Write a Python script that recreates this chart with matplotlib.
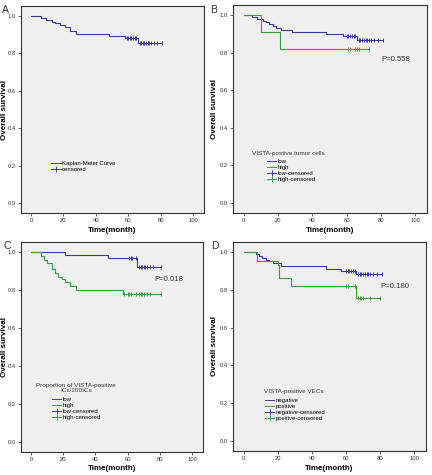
import matplotlib
matplotlib.use("Agg")
import matplotlib.pyplot as plt
import numpy as np
from matplotlib.lines import Line2D

plt.rcParams['font.family'] = ['Liberation Sans', 'DejaVu Sans']

BLUE = "#3b3b94"
GREEN = "#3f9a3f"

# Panel A: overall
a_t = [0, 6, 9, 13, 15, 18, 21, 24, 28, 48, 58, 66]
a_s = [1.0, 0.99, 0.98, 0.97, 0.96, 0.95, 0.94, 0.92, 0.905, 0.893, 0.88, 0.857]
a_c = [59, 60, 61, 62, 63, 64, 65, 67, 68, 69, 70, 71, 72, 73, 74, 76, 78, 81]

# Panel B: VISTA-positive tumor cells
b_low_t = [0, 5, 8, 11, 13, 15, 17, 19, 22, 28, 48, 58, 66]
b_low_s = [1.0, 0.99, 0.98, 0.97, 0.96, 0.95, 0.94, 0.93, 0.92, 0.912, 0.90, 0.89, 0.865]
b_low_c = [60, 61, 62, 63, 64, 65, 67, 68, 69, 70, 71, 72, 73, 74, 76, 78, 81]
b_high_t = [0, 10, 21]
b_high_s = [1.0, 0.91, 0.82]
b_high_c = [61, 62, 65, 66, 67, 73]

# Panel C: Proportion of VISTA-positive ICs/200ICs
c_low_t = [0, 21, 48, 66]
c_low_s = [1.0, 0.985, 0.97, 0.92]
c_low_c = [61, 62, 63, 65, 67, 68, 69, 70, 71, 72, 74, 76, 81]
c_high_t = [0, 6, 8, 10, 13, 15, 17, 19, 21, 24, 28, 57]
c_high_s = [1.0, 0.98, 0.96, 0.94, 0.91, 0.89, 0.87, 0.86, 0.84, 0.82, 0.80, 0.78]
c_high_c = [58, 60, 61, 62, 65, 67, 68, 69, 70, 72, 74, 81]

# Panel D: VISTA-positive VECs
d_neg_t = [0, 7, 9, 11, 13, 15, 17, 22, 48, 57, 66]
d_neg_s = [1.0, 0.99, 0.98, 0.97, 0.96, 0.95, 0.94, 0.925, 0.91, 0.90, 0.885]
d_neg_c = [60, 61, 62, 63, 64, 65, 67, 68, 69, 70, 71, 72, 73, 74, 76, 78, 81]
d_pos_t = [0, 8, 20, 21, 28, 66]
d_pos_s = [1.0, 0.955, 0.93, 0.865, 0.818, 0.758]
d_pos_c = [60, 61, 65, 67, 68, 69, 70, 74, 80]

x_ticks = [0, 20, 40, 60, 80, 100]
y_ticks = [0.0, 0.2, 0.4, 0.6, 0.8, 1.0]

W, H = 432, 475
fig = plt.figure(figsize=(W / 100, H / 100), dpi=100)


def make_ax(x0, y0, x1, y1, ylab_x):
    w = x1 - x0
    h = y1 - y0
    ax = fig.add_axes([x0 / W, 1 - y1 / H, w / W, h / H])
    ax.set_facecolor("#efefef")
    ax.set_xlim(-6.2, 106.8)
    ax.set_ylim(-0.053, 1.053)
    ax.set_xticks(x_ticks)
    ax.set_yticks(y_ticks)
    ax.set_yticklabels([f"{v:.1f}" for v in y_ticks])
    ax.tick_params(labelsize=4.2, length=2, width=0.5, colors="#333333", pad=1.5)
    for s in ax.spines.values():
        s.set_color("#333333")
        s.set_linewidth(0.8)
    ax.set_xlabel("Time(month)", fontsize=5.8, fontweight="bold")
    ax.xaxis.set_label_coords(0.5, -17 / h, transform=ax.transAxes)
    ax.set_ylabel("Overall survival", fontsize=5.8, fontweight="bold")
    ax.yaxis.set_label_coords((ylab_x - x0) / w, 0.5, transform=ax.transAxes)
    ax.xaxis.label.set_va("center")
    ax.yaxis.label.set_va("center")
    return ax


def km(ax, t, s, c, color):
    tt = list(t) + [max(c)]
    ss = list(s) + [s[-1]]
    ax.step(tt, ss, where="post", color=color, lw=0.8)
    t_arr = np.array(t)
    cy = [s[np.searchsorted(t_arr, ci, side="right") - 1] for ci in c]
    ax.plot(c, cy, ls="none", marker="|", ms=3.5, mew=0.7, color=color)


def legend(ax, labels, colors, x, y_top):
    handles = []
    for lab, col in zip(labels, colors):
        handles.append(Line2D([], [], color=col, lw=0.7))
    for lab, col in zip(labels, colors):
        handles.append(Line2D([], [], color=col, lw=0.7, marker="+", ms=4, mew=0.7))
    labs = list(labels) + [l + "-censored" for l in labels]
    leg = ax.legend(handles, labs, loc="upper left",
                    bbox_to_anchor=(x, y_top), bbox_transform=ax.transData,
                    frameon=False, fontsize=4.3,
                    handlelength=1.6, handletextpad=0.2, labelspacing=0.15,
                    borderpad=0, borderaxespad=0)
    return leg


TITLE_KW = dict(fontsize=4.6, color="#333333", va="center")

# A
axA = make_ax(21, 6, 204, 213, 5)
km(axA, a_t, a_s, a_c, BLUE)
hA = [Line2D([], [], color=BLUE, lw=0.7),
      Line2D([], [], color=BLUE, lw=0.7, marker="+", ms=4, mew=0.7)]
axA.legend(hA, ["Kaplan-Meier Curve", "censored"], loc="upper left",
           bbox_to_anchor=(12.5, 0.224), bbox_transform=axA.transData,
           frameon=False, fontsize=4.3, handlelength=1.6, handletextpad=0.2,
           labelspacing=0.15, borderpad=0, borderaxespad=0)

# B
axB = make_ax(233, 5, 427, 213, 215)
km(axB, b_low_t, b_low_s, b_low_c, BLUE)
km(axB, b_high_t, b_high_s, b_high_c, GREEN)
axB.text(5, 0.263, "VISTA-postive tumor cells", **TITLE_KW)
legend(axB, ["low", "high"], [BLUE, GREEN], 13.5, 0.236)
axB.text(80, 0.762, "P=0.558", fontsize=5.6, color="#333333", va="center")

# C
axC = make_ax(21, 242, 203, 452, 5)
km(axC, c_low_t, c_low_s, c_low_c, BLUE)
km(axC, c_high_t, c_high_s, c_high_c, GREEN)
axC.text(28, 0.283, "Proportion of VISTA-positive\nICs/200ICs", ha="center",
         multialignment="center", linespacing=1.0, **TITLE_KW)
legend(axC, ["low", "high"], [BLUE, GREEN], 13, 0.238)
axC.text(76.5, 0.854, "P=0.018", fontsize=5.6, color="#333333", va="center")

# D
axD = make_ax(233, 242, 426, 451, 215)
km(axD, d_neg_t, d_neg_s, d_neg_c, BLUE)
km(axD, d_pos_t, d_pos_s, d_pos_c, GREEN)
axD.text(11.8, 0.26, "VISTA-positive VECs", **TITLE_KW)
legend(axD, ["negative", "positive"], [BLUE, GREEN], 12.5, 0.228)
axD.text(80.2, 0.82, "P=0.180", fontsize=5.6, color="#333333", va="center")

for lab, x, y in [("A", 2, 10), ("B", 210, 10), ("C", 3, 246), ("D", 211, 246)]:
    fig.text(x / W, 1 - y / H, lab, fontsize=7.5, va="center", ha="left", color="#333333")

fig.savefig("out.png", dpi=100)
